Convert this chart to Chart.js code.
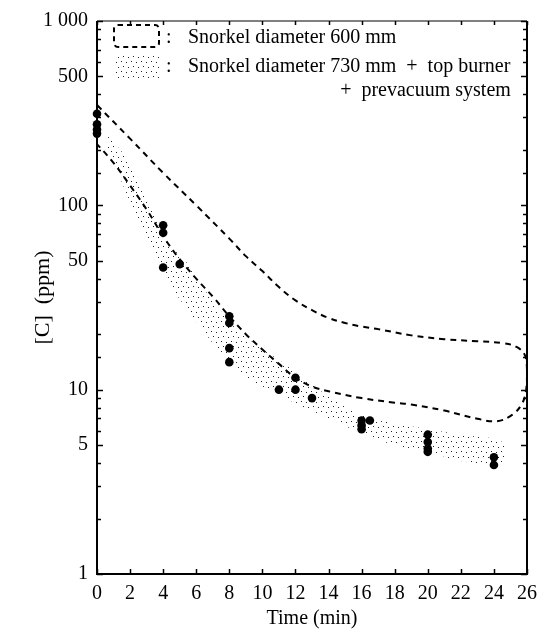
<!DOCTYPE html>
<html>
<head>
<meta charset="utf-8">
<script src="https://cdn.jsdelivr.net/npm/chart.js@4.4.1/dist/chart.umd.min.js"></script>
<style>
  html, body { margin: 0; padding: 0; background: #fff; }
  #wrap { width: 545px; height: 634px; }
</style>
</head>
<body>
<div id="wrap"><canvas id="chart" width="545" height="634"></canvas></div>
<script>
// measured points (black dots)
const dotTime = [0, 0, 0, 0, 4, 4, 4, 5, 8, 8, 8, 8, 11, 12, 12, 13, 16, 16, 16, 16.5, 20, 20, 20, 20, 24, 24];
const dotC = [314, 275, 258, 245, 78, 71, 46, 48, 25, 23, 16.8, 14.1, 10, 11.6, 10, 9, 6.8, 6.4, 6.1, 6.8, 5.7, 5.2, 4.8, 4.6, 4.3, 3.9];

// envelope, snorkel 600 mm (upper edge, round the right end, lower edge back)
const env600Time = [0, 2, 4, 6, 8, 9, 10, 11, 12, 13, 14, 15, 16, 17, 19, 21, 23, 24.5, 25.4, 25.9, 26.0, 25.95, 25.7, 25.1, 24.2, 23, 21, 19, 18, 16, 14, 13, 12, 11, 10, 9, 8, 7, 6, 5, 4, 3, 2, 1, 0];
const env600C = [350, 230, 150, 100, 66, 53, 44, 36, 30.5, 27, 24.5, 23, 22, 21.3, 19.7, 18.8, 18.3, 17.9, 17, 15.2, 12.5, 10, 8.4, 7.3, 6.75, 6.95, 7.7, 8.3, 8.5, 9.0, 9.8, 10.4, 11.6, 13.8, 16.5, 20, 25, 32, 40, 51, 68, 95, 128, 170, 215];

// band, snorkel 730 mm + top burner + prevacuum system
const band730Time = [0.6, 1.5, 2.2, 3.0, 3.6, 4.5, 5.5, 6.3, 7.3, 8.5, 10, 11, 12.5, 14, 15.5, 17, 18, 20, 22, 24.5,
  24.5, 22, 20, 18, 16, 14, 12, 11, 10, 9, 8, 7.2, 6.4, 5.5, 4.6, 3.8, 3.0, 2.4, 1.8, 1.2, 0.6];
const band730C = [240, 195, 150, 112, 82, 60, 48, 37, 28, 21, 16.5, 14.5, 11.5, 9.2, 7.6, 6.8, 6.6, 6.1, 5.7, 5.2,
  3.9, 4.1, 4.6, 5.0, 5.8, 7.0, 8.4, 9.6, 10.4, 11.8, 14.5, 17, 21, 27, 35, 48, 64, 85, 115, 155, 200];

const yLabelled = [1, 5, 10, 50, 100, 500, 1000];
const legendLabels = ['Snorkel diameter 600 mm', 'Snorkel diameter 730 mm  +  top burner', '+  prevacuum system'];

const SERIF = '"Liberation Serif", "DejaVu Serif", serif';

function pts(xs, ys) {
  return xs.map((x, i) => ({ x: x, y: ys[i] }));
}

// sparse stipple for the shaded band
function makeStipple() {
  const c = document.createElement('canvas');
  c.width = 10; c.height = 10;
  const g = c.getContext('2d');
  g.fillStyle = '#222';
  g.fillRect(1, 1, 1, 1);
  g.fillRect(6, 2, 1, 1);
  g.fillRect(3, 6, 1, 1);
  g.fillRect(8, 7, 1, 1);
  return g.createPattern(c, 'repeat');
}
const stipple = makeStipple();

// frame and inward tick marks
const framePlugin = {
  id: 'frame',
  afterDraw(chart) {
    const { ctx, chartArea: a } = chart;
    const xs = chart.scales.x, ys = chart.scales.y;
    ctx.save();
    ctx.strokeStyle = '#000';
    ctx.lineWidth = 1;
    ctx.beginPath();
    ctx.moveTo(a.left, a.top); ctx.lineTo(a.right, a.top);
    ctx.stroke();
    ctx.lineWidth = 2;
    ctx.beginPath();
    ctx.moveTo(a.left, a.top); ctx.lineTo(a.left, a.bottom); ctx.lineTo(a.right, a.bottom); ctx.lineTo(a.right, a.top);
    ctx.stroke();

    ctx.lineWidth = 1.5;
    ctx.beginPath();
    ys.ticks.forEach(t => {
      const y = Math.round(ys.getPixelForValue(t.value)) + 0.5;
      const len = yLabelled.includes(t.value) ? 6 : 4;
      ctx.moveTo(a.left, y); ctx.lineTo(a.left + len, y);
      ctx.moveTo(a.right, y); ctx.lineTo(a.right - len, y);
    });
    xs.ticks.forEach(t => {
      const x = Math.round(xs.getPixelForValue(t.value)) + 0.5;
      ctx.moveTo(x, a.bottom); ctx.lineTo(x, a.bottom - 5);
      ctx.moveTo(x, a.top); ctx.lineTo(x, a.top + 4);
    });
    ctx.stroke();
    ctx.restore();
  }
};

const legendPlugin = {
  id: 'legendBox',
  afterDraw(chart) {
    const ctx = chart.ctx;
    ctx.save();
    ctx.strokeStyle = '#000';
    ctx.lineWidth = 2;
    ctx.setLineDash([5, 4]);
    ctx.beginPath();
    ctx.roundRect(114, 25, 45, 22, 4);
    ctx.stroke();
    ctx.setLineDash([]);
    ctx.fillStyle = stipple;
    ctx.fillRect(114, 53, 45, 25);

    ctx.fillStyle = '#000';
    ctx.font = '20px ' + SERIF;
    ctx.textBaseline = 'alphabetic';
    ctx.fillText(':', 166, 43);
    ctx.fillText(':', 166, 72);
    ctx.fillText(legendLabels[0], 188, 43);
    ctx.fillText(legendLabels[1], 188, 72);
    const x3 = 188 + ctx.measureText('Snorkel diameter 7').width;
    ctx.fillText(legendLabels[2], x3, 96);
    ctx.restore();
  }
};

new Chart(document.getElementById('chart'), {
  type: 'line',
  data: {
    datasets: [
      {
        data: pts(dotTime, dotC),
        showLine: false,
        pointRadius: 4.3,
        pointBackgroundColor: '#000',
        pointBorderWidth: 0,
        order: 0,
        clip: false
      },
      {
        data: pts(env600Time, env600C),
        borderColor: '#000',
        borderWidth: 2,
        borderDash: [6, 5],
        pointRadius: 0,
        tension: 0.4,
        fill: false,
        order: 1,
        clip: false
      },
      {
        data: pts(band730Time, band730C),
        borderWidth: 0,
        borderColor: 'rgba(0,0,0,0)',
        backgroundColor: stipple,
        pointRadius: 0,
        tension: 0.3,
        fill: 'shape',
        order: 2,
        clip: false
      }
    ]
  },
  options: {
    responsive: false,
    animation: false,
    layout: { padding: { top: 13, right: 17, left: 0, bottom: 0 } },
    plugins: {
      legend: { display: false },
      tooltip: { enabled: false }
    },
    scales: {
      x: {
        type: 'linear',
        min: 0,
        max: 26,
        grid: { display: false, drawTicks: false },
        border: { display: false },
        ticks: {
          stepSize: 2,
          autoSkip: false,
          maxRotation: 0,
          padding: 8,
          color: '#000',
          font: { family: SERIF, size: 20 }
        },
        title: {
          display: true,
          text: 'Time (min)',
          color: '#000',
          font: { family: SERIF, size: 20 },
          padding: { top: 0, bottom: 3 }
        },
        afterFit(scale) { scale.height = 60; }
      },
      y: {
        type: 'logarithmic',
        min: 1,
        max: 1000,
        grid: { display: false, drawTicks: false },
        border: { display: false },
        ticks: {
          autoSkip: false,
          padding: 9,
          color: '#000',
          font: { family: SERIF, size: 20 },
          callback: v => yLabelled.includes(v) ? (v === 1000 ? '1 000' : String(v)) : ''
        },
        title: {
          display: true,
          text: '[C]  (ppm)',
          color: '#000',
          font: { family: SERIF, size: 22 },
          padding: { top: 30, bottom: 0 }
        },
        afterFit(scale) { scale.width = 97; }
      }
    }
  },
  plugins: [framePlugin, legendPlugin]
});
</script>
</body>
</html>
